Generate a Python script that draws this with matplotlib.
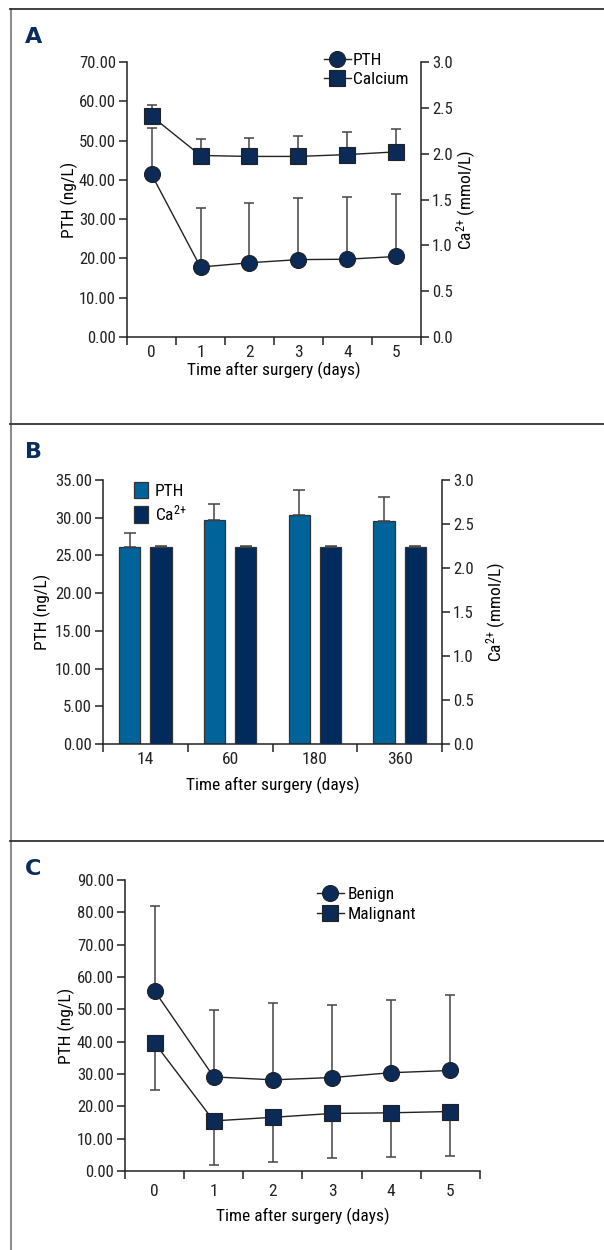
import numpy as np
import matplotlib
matplotlib.use('Agg')
from matplotlib import pyplot as plt
from matplotlib import font_manager
from matplotlib.lines import Line2D

# pick the narrowest installed sans family
main_font = 'DejaVu Sans'
for name in ['Roboto Condensed', 'Liberation Sans Narrow', 'Open Sans Condensed', 'Liberation Sans']:
    try:
        font_manager.findfont(name, fallback_to_default=False)
        main_font = name
        break
    except Exception:
        pass

plt.rcParams['font.family'] = [main_font, 'DejaVu Sans']
plt.rcParams['mathtext.fontset'] = 'custom'
plt.rcParams['mathtext.rm'] = main_font
plt.rcParams['mathtext.default'] = 'regular'
plt.rcParams['font.size'] = 12.5
plt.rcParams['ytick.labelsize'] = 12

# panel A: PTH and calcium, days 0-5 after surgery
days = [0, 1, 2, 3, 4, 5]
pth_a = [41.4, 17.8, 18.9, 19.7, 19.8, 20.5]
pth_a_sd = [11.7, 15.1, 15.3, 15.8, 15.9, 16.0]
ca_a = [2.41, 1.98, 1.97, 1.97, 1.99, 2.02]
ca_a_sd = [0.12, 0.18, 0.20, 0.22, 0.25, 0.25]

# panel B: long-term follow-up
groups_b = ['14', '60', '180', '360']
pth_b = [26.1, 29.7, 30.4, 29.6]
pth_b_sd = [1.9, 2.1, 3.3, 3.1]
ca_b = [2.24, 2.24, 2.24, 2.24]
ca_b_sd = [0.01, 0.01, 0.01, 0.01]

# panel C: benign vs malignant
benign = [55.7, 29.1, 28.2, 28.9, 30.4, 31.1]
benign_sd = [26.2, 20.8, 23.9, 22.4, 22.4, 23.2]
malignant = [39.6, 15.5, 16.6, 17.8, 18.0, 18.4]
malignant_sd = [14.7, 13.6, 13.8, 13.8, 13.7, 13.8]

W, H = 604, 1250
navy = '#0b2a55'
blue_bar = '#00639a'
dark_bar = '#002b5c'
grey = '#444444'
ca_label = 'Ca$^{2{+}}$'

fig = plt.figure(figsize=(W / 100, H / 100), dpi=100)


def box(left, top, right, bottom):
    return [left / W, 1 - bottom / H, (right - left) / W, (bottom - top) / H]


def style(ax, right=False):
    ax.spines['top'].set_visible(False)
    ax.spines['right'].set_visible(right)
    for s in ax.spines.values():
        s.set_linewidth(1.1)
        s.set_color('#222222')
    ax.tick_params(which='both', direction='out', width=1.1, colors='#222222')
    ax.tick_params(axis='y', length=6, pad=2)
    ax.tick_params(axis='x', which='major', length=0, pad=6)
    ax.tick_params(axis='x', which='minor', length=6)


# frame lines
fig.add_artist(Line2D([10.5 / W, 10.5 / W], [0, 1 - 9 / H], color='#8c8c8c', lw=1.5))
for yy in [9, 424, 841]:
    fig.add_artist(Line2D([10 / W, 1], [1 - yy / H, 1 - yy / H], color='#333333', lw=1.3))
for letter, yy in [('A', 37), ('B', 452), ('C', 869)]:
    fig.text(25 / W, 1 - yy / H, letter, fontsize=16, fontweight='bold', color='#0a2d5e',
             family='DejaVu Sans', va='center', ha='left')

# ---- Panel A
ax = fig.add_axes(box(127, 62, 421, 337))
ax2 = ax.twinx()
style(ax)
style(ax2, right=True)
ax2.spines['left'].set_visible(False)
ax2.spines['bottom'].set_visible(False)
x = np.arange(len(days))
ax.errorbar(x, pth_a, yerr=[np.zeros(len(days)), pth_a_sd], fmt='none', ecolor=grey,
            elinewidth=1.1, capsize=3.5, capthick=1.1, zorder=2)
ax.plot(x, pth_a, '-o', color='#222222', lw=1, markersize=11.5, markerfacecolor=navy,
        markeredgecolor='#222222', markeredgewidth=0.8, zorder=3, label='PTH')
ax2.errorbar(x, ca_a, yerr=[np.zeros(len(days)), ca_a_sd], fmt='none', ecolor=grey,
             elinewidth=1.1, capsize=3.5, capthick=1.1, zorder=2)
ax2.plot(x, ca_a, '-s', color='#222222', lw=1, markersize=11, markerfacecolor=navy,
         markeredgecolor='#222222', markeredgewidth=0.8, zorder=3, label='Calcium')
ax.set_xlim(-0.5, 5.5)
ax.set_ylim(0, 70)
ax2.set_ylim(0, 3.0)
ax.set_xticks(x)
ax.set_xticklabels([str(d) for d in days])
ax.set_xticks(np.arange(-0.5, 6, 1), minor=True)
ax.set_yticks(np.arange(0, 71, 10))
ax.set_yticklabels([f'{v:.2f}' for v in np.arange(0, 71, 10)])
ax2.set_yticks(np.arange(0, 3.01, 0.5))
ax2.set_yticklabels([f'{v:.1f}' for v in np.arange(0, 3.01, 0.5)])
ax.set_ylabel('PTH (ng/L)')
ax.yaxis.set_label_coords(-0.168, 0.5)
ax2.set_ylabel(ca_label + ' (mmol/L)')
ax2.yaxis.set_label_coords(1.112, 0.5)
ax.set_xlabel('Time after surgery (days)')
ax.xaxis.set_label_coords(0.5, -0.091)
h1, l1 = ax.get_legend_handles_labels()
h2, l2 = ax2.get_legend_handles_labels()
ax2.legend(h1 + h2, l1 + l2, loc='upper left', bbox_to_anchor=(0.645, 1.06), frameon=False,
           handlelength=1.6, handletextpad=0.1, labelspacing=0.25, borderaxespad=0)

# ---- Panel B
ax = fig.add_axes(box(103, 480, 442, 744))
ax2 = ax.twinx()
style(ax)
style(ax2, right=True)
ax2.spines['left'].set_visible(False)
ax2.spines['bottom'].set_visible(False)
xb = np.arange(len(groups_b))
bw = 0.25
off = 0.185
ax.bar(xb - off, pth_b, bw, color=blue_bar, edgecolor='#333333', linewidth=0.9, label='PTH',
       yerr=[np.zeros(4), pth_b_sd], error_kw=dict(ecolor=grey, elinewidth=1.1, capsize=4, capthick=1.1))
ax2.bar(xb + off, ca_b, bw, color=dark_bar, edgecolor='#333333', linewidth=0.9, label=ca_label,
        yerr=[np.zeros(4), ca_b_sd], error_kw=dict(ecolor=grey, elinewidth=1.1, capsize=4, capthick=1.1))
ax.set_xlim(-0.5, 3.5)
ax.set_ylim(0, 35)
ax2.set_ylim(0, 3.0)
ax.set_xticks(xb)
ax.set_xticklabels(groups_b)
ax.set_xticks(np.arange(-0.5, 4, 1), minor=True)
ax.set_yticks(np.arange(0, 36, 5))
ax.set_yticklabels([f'{v:.2f}' for v in np.arange(0, 36, 5)])
ax2.set_yticks(np.arange(0, 3.01, 0.5))
ax2.set_yticklabels([f'{v:.1f}' for v in np.arange(0, 3.01, 0.5)])
ax.set_ylabel('PTH (ng/L)')
ax.yaxis.set_label_coords(-0.153, 0.5)
ax2.set_ylabel(ca_label + ' (mmol/L)')
ax2.yaxis.set_label_coords(1.124, 0.5)
ax.set_xlabel('Time after surgery (days)')
ax.xaxis.set_label_coords(0.5, -0.125)
h1, l1 = ax.get_legend_handles_labels()
h2, l2 = ax2.get_legend_handles_labels()
ax2.legend(h1 + h2, l1 + l2, loc='upper left', bbox_to_anchor=(0.07, 1.02), frameon=False,
           handlelength=0.8, handleheight=1.1, handletextpad=0.4, labelspacing=0.25, borderaxespad=0)

# ---- Panel C
ax = fig.add_axes(box(125, 880, 480, 1171))
style(ax)
ax.errorbar(x, benign, yerr=[np.zeros(6), benign_sd], fmt='none', ecolor=grey,
            elinewidth=1.1, capsize=3.5, capthick=1.1, zorder=2)
ax.errorbar(x, malignant, yerr=[malignant_sd, np.zeros(6)], fmt='none', ecolor=grey,
            elinewidth=1.1, capsize=3.5, capthick=1.1, zorder=2)
ax.plot(x, benign, '-o', color='#222222', lw=1, markersize=11.5, markerfacecolor=navy,
        markeredgecolor='#222222', markeredgewidth=0.8, zorder=3, label='Benign')
ax.plot(x, malignant, '-s', color='#222222', lw=1, markersize=11, markerfacecolor=navy,
        markeredgecolor='#222222', markeredgewidth=0.8, zorder=3, label='Malignant')
ax.set_xlim(-0.5, 5.5)
ax.set_ylim(0, 90)
ax.set_xticks(x)
ax.set_xticklabels([str(d) for d in days])
ax.set_xticks(np.arange(-0.5, 6, 1), minor=True)
ax.set_yticks(np.arange(0, 91, 10))
ax.set_yticklabels([f'{v:.2f}' for v in np.arange(0, 91, 10)])
ax.set_ylabel('PTH (ng/L)')
ax.yaxis.set_label_coords(-0.141, 0.5)
ax.set_xlabel('Time after surgery (days)')
ax.xaxis.set_label_coords(0.5, -0.127)
ax.tick_params(axis='x', which='major', pad=9)
ax.legend(loc='upper left', bbox_to_anchor=(0.52, 1.0), frameon=False,
          handlelength=1.6, handletextpad=0.2, labelspacing=0.25, borderaxespad=0)

fig.savefig('out.png', dpi=100)
